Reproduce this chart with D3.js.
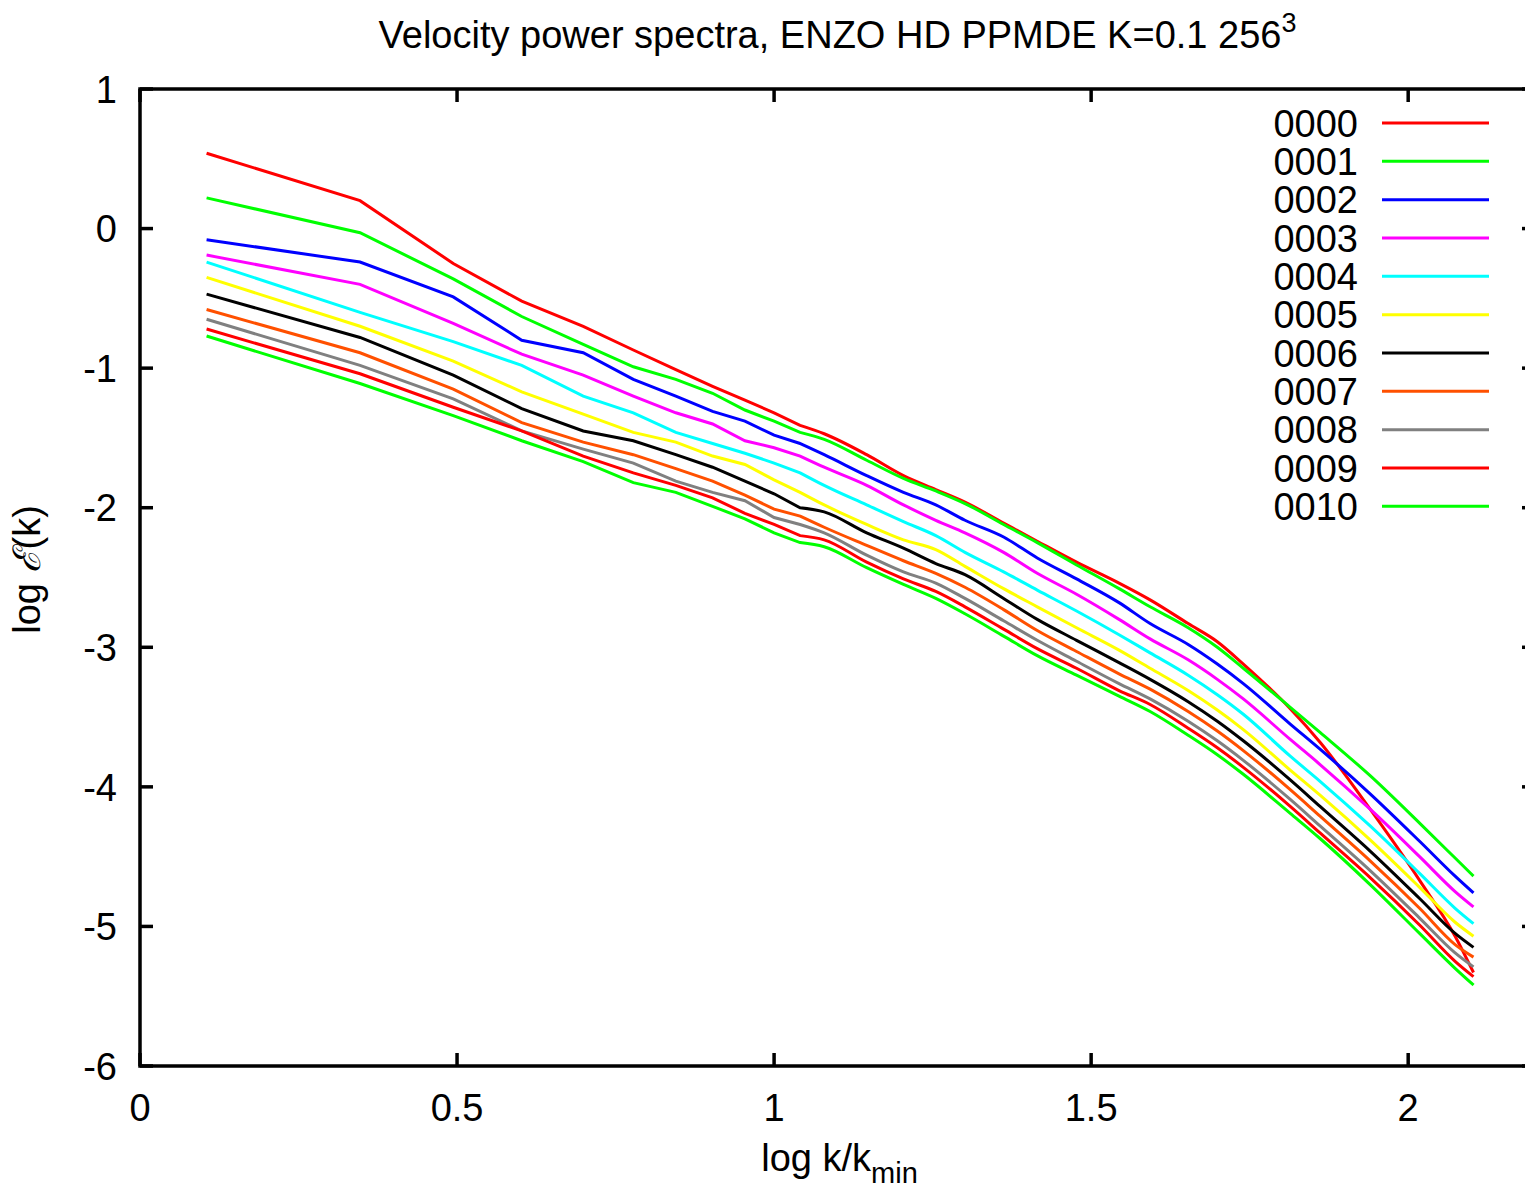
<!DOCTYPE html>
<html>
<head>
<meta charset="utf-8">
<script src="https://cdn.jsdelivr.net/npm/d3@7"></script>
<style>
  html, body { margin: 0; padding: 0; background: #ffffff; }
  svg { display: block; }
  text { font-family: "Liberation Sans", Arial, Helvetica, sans-serif; fill: #000; }
</style>
</head>
<body>
<svg id="chart" width="1525" height="1188"></svg>
<script>
// ---- data ----
const logK = [0.105, 0.347, 0.494, 0.602, 0.699, 0.778, 0.845, 0.903, 0.954, 1.000,
              1.041, 1.079, 1.146, 1.204, 1.255, 1.301, 1.362, 1.415, 1.477, 1.544,
              1.593, 1.653, 1.699, 1.740, 1.814, 1.861, 1.940, 2.018, 2.074, 2.103];

const seriesNames = ["0000", "0001", "0002", "0003", "0004", "0005", "0006", "0007", "0008", "0009", "0010"];
const seriesColors = ["#ff0000", "#00ff00", "#0000ff", "#ff00ff", "#00ffff", "#ffff00", "#000000", "#ff5000", "#808080", "#ff0000", "#00ff00"];

const s0000 = [0.54, 0.20, -0.25, -0.52, -0.70, -0.87, -1.01, -1.13, -1.23, -1.32, -1.41, -1.47, -1.62, -1.77, -1.87, -1.96, -2.11, -2.24, -2.39, -2.54, -2.66, -2.83, -2.96, -3.12, -3.44, -3.68, -4.16, -4.67, -5.07, -5.33];
const s0001 = [0.22, -0.03, -0.36, -0.63, -0.83, -0.99, -1.08, -1.18, -1.30, -1.38, -1.46, -1.51, -1.66, -1.79, -1.88, -1.97, -2.12, -2.25, -2.41, -2.58, -2.71, -2.86, -3.00, -3.15, -3.43, -3.61, -3.92, -4.26, -4.51, -4.64];
const s0002 = [-0.08, -0.24, -0.49, -0.80, -0.89, -1.08, -1.20, -1.31, -1.38, -1.48, -1.54, -1.62, -1.77, -1.89, -1.98, -2.09, -2.21, -2.36, -2.51, -2.68, -2.83, -2.98, -3.12, -3.26, -3.55, -3.73, -4.05, -4.39, -4.64, -4.76];
const s0003 = [-0.19, -0.40, -0.68, -0.90, -1.05, -1.20, -1.32, -1.40, -1.52, -1.57, -1.63, -1.71, -1.84, -1.98, -2.09, -2.18, -2.32, -2.47, -2.62, -2.80, -2.94, -3.09, -3.23, -3.37, -3.66, -3.84, -4.16, -4.50, -4.75, -4.86];
const s0004 = [-0.24, -0.60, -0.81, -0.98, -1.20, -1.32, -1.46, -1.54, -1.61, -1.68, -1.75, -1.84, -1.98, -2.10, -2.20, -2.32, -2.46, -2.59, -2.74, -2.91, -3.04, -3.20, -3.34, -3.48, -3.78, -3.96, -4.28, -4.62, -4.87, -4.98];
const s0005 = [-0.35, -0.70, -0.95, -1.17, -1.33, -1.46, -1.53, -1.63, -1.69, -1.80, -1.89, -1.98, -2.12, -2.23, -2.30, -2.42, -2.58, -2.71, -2.86, -3.02, -3.15, -3.31, -3.45, -3.59, -3.88, -4.06, -4.38, -4.72, -4.97, -5.07];
const s0006 = [-0.47, -0.78, -1.05, -1.29, -1.45, -1.52, -1.62, -1.71, -1.81, -1.90, -2.00, -2.03, -2.18, -2.29, -2.40, -2.48, -2.65, -2.80, -2.95, -3.11, -3.23, -3.39, -3.53, -3.67, -3.95, -4.14, -4.46, -4.80, -5.05, -5.15];
const s0007 = [-0.58, -0.89, -1.15, -1.39, -1.53, -1.62, -1.72, -1.81, -1.91, -2.01, -2.06, -2.14, -2.27, -2.38, -2.47, -2.57, -2.73, -2.88, -3.03, -3.19, -3.30, -3.46, -3.60, -3.74, -4.02, -4.21, -4.53, -4.87, -5.13, -5.22];
const s0008 = [-0.65, -0.98, -1.22, -1.45, -1.58, -1.68, -1.81, -1.89, -1.95, -2.07, -2.12, -2.18, -2.34, -2.46, -2.54, -2.65, -2.81, -2.95, -3.10, -3.26, -3.37, -3.53, -3.67, -3.81, -4.09, -4.28, -4.60, -4.94, -5.19, -5.29];
const s0009 = [-0.72, -1.04, -1.28, -1.45, -1.63, -1.75, -1.84, -1.93, -2.04, -2.12, -2.20, -2.23, -2.39, -2.51, -2.60, -2.71, -2.87, -3.01, -3.15, -3.31, -3.41, -3.58, -3.72, -3.86, -4.14, -4.33, -4.65, -4.99, -5.25, -5.36];
const s0010 = [-0.77, -1.11, -1.34, -1.52, -1.67, -1.82, -1.89, -1.99, -2.08, -2.18, -2.25, -2.28, -2.43, -2.55, -2.65, -2.76, -2.92, -3.06, -3.20, -3.35, -3.46, -3.63, -3.77, -3.91, -4.19, -4.37, -4.70, -5.05, -5.30, -5.42];

const seriesValues = [s0000, s0001, s0002, s0003, s0004, s0005, s0006, s0007, s0008, s0009, s0010];

const xTicks = [0, 0.5, 1, 1.5, 2];
const xTickLabels = ["0", "0.5", "1", "1.5", "2"];
const yTicks = [1, 0, -1, -2, -3, -4, -5, -6];
const yTickLabels = ["1", "0", "-1", "-2", "-3", "-4", "-5", "-6"];

// ---- layout ----
const svg = d3.select("#chart");
const mLeft = 140, mRight = 1535, mTop = 89, mBottom = 1066;
const x = d3.scaleLinear().domain([0, 2.2]).range([mLeft, mRight]);
const y = d3.scaleLinear().domain([-6, 1]).range([mBottom, mTop]);
const fs = 38;
const tickLen = 13;

svg.append("rect").attr("x", 0).attr("y", 0).attr("width", 1525).attr("height", 1188).attr("fill", "#fff");

// title
const title = svg.append("text")
  .attr("x", (mLeft + mRight) / 2).attr("y", 48)
  .attr("text-anchor", "middle").attr("font-size", fs);
title.append("tspan").text("Velocity power spectra, ENZO HD PPMDE K=0.1 256");
title.append("tspan").attr("font-size", 27).attr("dy", -16).text("3");

// data lines: straight segments for the coarse low-k shells, smooth for the dense high-k part
const splitIdx = 10;
const linLine = d3.line().x(d => x(d[0])).y(d => y(d[1])).curve(d3.curveLinear);
const smoothLine = d3.line().x(d => x(d[0])).y(d => y(d[1])).curve(d3.curveMonotoneX);
const gLines = svg.append("g");
seriesValues.forEach((vals, si) => {
  const pts = vals.map((v, i) => [logK[i], v]);
  const d1 = linLine(pts.slice(0, splitIdx + 1));
  const d2 = smoothLine(pts.slice(splitIdx)).replace(/^M[^A-Za-z]*/, "");
  gLines.append("path")
    .attr("d", d1 + d2)
    .attr("fill", "none")
    .attr("stroke", seriesColors[si])
    .attr("stroke-width", 3)
    .attr("stroke-linejoin", "miter");
});

// axes (ticks on all four sides, inward)
const axG = svg.append("g").attr("stroke", "#000").attr("stroke-width", 3.5);
xTicks.forEach(t => {
  axG.append("line").attr("x1", x(t)).attr("x2", x(t)).attr("y1", mBottom).attr("y2", mBottom - tickLen);
  axG.append("line").attr("x1", x(t)).attr("x2", x(t)).attr("y1", mTop).attr("y2", mTop + tickLen);
});
yTicks.forEach(t => {
  axG.append("line").attr("x1", mLeft).attr("x2", mLeft + tickLen).attr("y1", y(t)).attr("y2", y(t));
  axG.append("line").attr("x1", mRight).attr("x2", mRight - tickLen).attr("y1", y(t)).attr("y2", y(t));
});
svg.append("rect")
  .attr("x", mLeft).attr("y", mTop).attr("width", mRight - mLeft).attr("height", mBottom - mTop)
  .attr("fill", "none").attr("stroke", "#000").attr("stroke-width", 3.5);

// tick labels
xTicks.forEach((t, i) => {
  svg.append("text").attr("x", x(t)).attr("y", 1121)
    .attr("text-anchor", "middle").attr("font-size", fs).text(xTickLabels[i]);
});
yTicks.forEach((t, i) => {
  svg.append("text").attr("x", 117).attr("y", y(t)).attr("dy", "0.36em")
    .attr("text-anchor", "end").attr("font-size", fs).text(yTickLabels[i]);
});

// axis titles
const xl = svg.append("text").attr("x", (mLeft + mRight) / 2 + 2).attr("y", 1171)
  .attr("text-anchor", "middle").attr("font-size", fs);
xl.append("tspan").text("log k/k");
xl.append("tspan").attr("font-size", 29).attr("dy", 12).text("min");

const yl = svg.append("text")
  .attr("transform", `translate(40, ${(mTop + mBottom) / 2 - 8}) rotate(-90)`)
  .attr("text-anchor", "middle").attr("font-size", fs);
yl.append("tspan").text("log ");
yl.append("tspan").attr("font-family", "DejaVu Serif").attr("font-style", "italic").text("\u2130");
yl.append("tspan").text("(k)");

// legend
const legY0 = 123, legDy = 38.33;
seriesNames.forEach((name, i) => {
  const yy = legY0 + i * legDy;
  svg.append("text").attr("x", 1358).attr("y", yy).attr("dy", "0.36em")
    .attr("text-anchor", "end").attr("font-size", fs).text(name);
  svg.append("line").attr("x1", 1382).attr("x2", 1489).attr("y1", yy).attr("y2", yy)
    .attr("stroke", seriesColors[i]).attr("stroke-width", 3);
});
</script>
</body>
</html>
